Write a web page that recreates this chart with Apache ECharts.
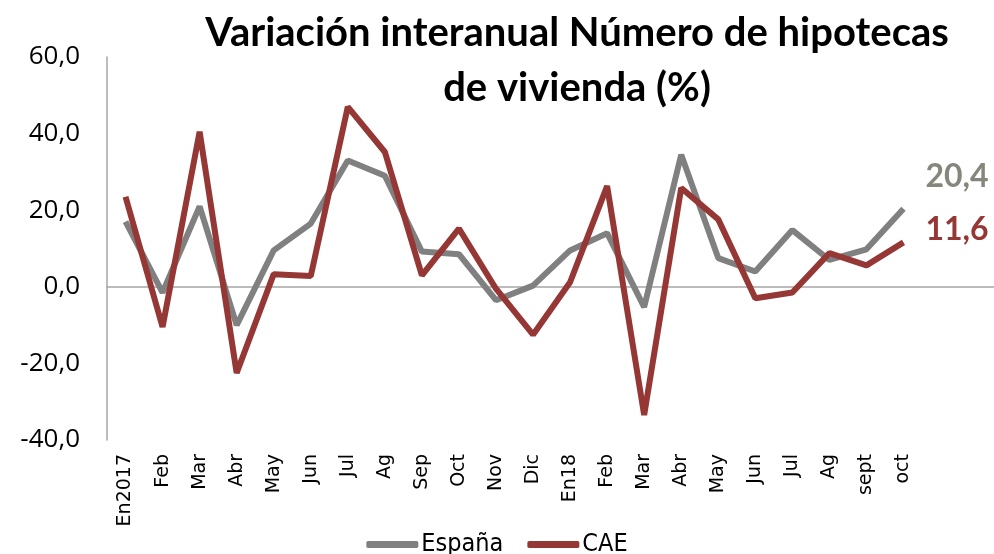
<!DOCTYPE html>
<html>
<head>
<meta charset="utf-8">
<script src="https://cdn.jsdelivr.net/npm/echarts@6/dist/echarts.min.js"></script>
<style>
  html, body { margin: 0; padding: 0; background: #fff; }
  #chart { width: 994px; height: 554px; }
</style>
</head>
<body>
<div id="chart"></div>
<script>
// meses
const categories = ['En2017', 'Feb', 'Mar', 'Abr', 'May', 'Jun', 'Jul', 'Ag', 'Sep', 'Oct', 'Nov', 'Dic',
  'En18', 'Feb', 'Mar', 'Abr', 'May', 'Jun', 'Jul', 'Ag', 'sept', 'oct'];
const espana = [17.0, -1.5, 21.0, -10.0, 9.5, 16.5, 33.0, 29.0, 9.2, 8.5, -3.5, 0.3,
  9.5, 14.0, -5.3, 34.5, 7.5, 4.0, 14.8, 7.0, 9.8, 20.4];
const cae = [23.5, -10.5, 40.5, -22.5, 3.3, 2.8, 47.0, 35.2, 3.0, 15.2, -0.5, -12.5,
  1.2, 26.3, -33.5, 25.8, 17.6, -3.0, -1.5, 8.8, 5.6, 11.6];
const yTicks = { min: -40, max: 60, interval: 20 };

const fmt = v => v.toFixed(1).replace('.', ',');

const chart = echarts.init(document.getElementById('chart'));
chart.setOption({
  animation: false,
  title: {
    text: 'Variación interanual Número de hipotecas\nde vivienda (%)',
    left: 572,
    top: 1,
    textAlign: 'center',
    textStyle: {
      fontFamily: 'Lato',
      fontWeight: 'bold',
      fontSize: 40,
      lineHeight: 55,
      color: '#000'
    }
  },
  legend: {
    top: 527,
    left: 'center',
    icon: 'roundRect',
    itemWidth: 52,
    itemHeight: 7,
    itemGap: 24,
    textStyle: {
      fontFamily: 'DejaVu Sans Condensed',
      fontSize: 25,
      color: '#000',
      padding: [0, 0, 0, -2]
    },
    data: ['España', 'CAE']
  },
  grid: [
    { left: 107, right: 72, top: 57, bottom: 114 },
    // same plot height, full width to the right, only for the zero line
    { left: 107, right: 0, top: 57, bottom: 114 }
  ],
  xAxis: [
    {
      type: 'category',
      gridIndex: 0,
      data: categories,
      boundaryGap: true,
      axisLine: { show: false },
      axisTick: { show: false },
      axisLabel: {
        rotate: 90,
        margin: 14,
        fontFamily: 'DejaVu Sans',
        fontSize: 19,
        color: '#000',
        interval: 0
      }
    },
    {
      type: 'value',
      gridIndex: 1,
      min: 0,
      max: 1,
      axisLine: { show: true, onZero: true, lineStyle: { color: '#a6a6a6', width: 1.5 } },
      axisTick: { show: false },
      axisLabel: { show: false },
      splitLine: { show: false }
    }
  ],
  yAxis: [
    {
      type: 'value',
      gridIndex: 0,
      min: yTicks.min,
      max: yTicks.max,
      interval: yTicks.interval,
      axisLine: { show: true, lineStyle: { color: '#a6a6a6', width: 1.5 } },
      axisTick: { show: false },
      splitLine: { show: false },
      axisLabel: {
        margin: 27,
        fontFamily: 'Open Sans',
        fontSize: 26,
        color: '#000',
        formatter: v => fmt(v)
      }
    },
    {
      type: 'value',
      gridIndex: 1,
      min: yTicks.min,
      max: yTicks.max,
      interval: yTicks.interval,
      axisLine: { show: false },
      axisTick: { show: false },
      axisLabel: { show: false },
      splitLine: { show: false }
    }
  ],
  series: [
    {
      name: 'España',
      type: 'line',
      data: espana,
      symbol: 'none',
      lineStyle: { color: '#808080', width: 6 },
      itemStyle: { color: '#808080' },
      endLabel: {
        show: true,
        offset: [14, -32],
        fontFamily: 'Lato',
        fontWeight: 'bold',
        fontSize: 32,
        color: '#86867c',
        formatter: p => fmt(p.value)
      },
      z: 2
    },
    {
      name: 'CAE',
      type: 'line',
      data: cae,
      symbol: 'none',
      lineStyle: { color: '#953735', width: 6 },
      itemStyle: { color: '#953735' },
      endLabel: {
        show: true,
        offset: [14, -13],
        fontFamily: 'Lato',
        fontWeight: 'bold',
        fontSize: 32,
        color: '#953735',
        formatter: p => fmt(p.value)
      },
      z: 3
    }
  ]
});
</script>
</body>
</html>
